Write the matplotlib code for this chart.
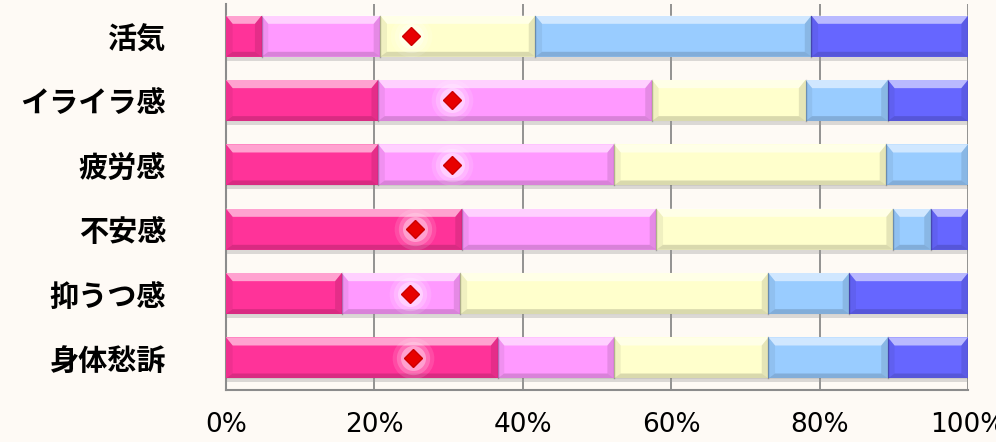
import matplotlib.pyplot as plt
from matplotlib.patches import Polygon
import numpy as np

plt.rcParams['font.family'] = ['Noto Sans CJK JP', 'DejaVu Sans']

categories = ["活気", "イライラ感", "疲労感", "不安感", "抑うつ感", "身体愁訴"]
# share of each response level (%), left to right
level1 = [4.8, 20.5, 20.5, 31.8, 15.6, 36.6]
level2 = [16.0, 36.9, 31.8, 26.2, 16.0, 15.7]
level3 = [20.9, 20.7, 36.7, 31.9, 41.5, 20.8]
level4 = [37.2, 11.1, 11.0, 5.1, 10.9, 16.1]
level5 = [21.1, 10.8, 0.0, 5.0, 16.0, 10.8]
mean_marker = [25.0, 30.4, 30.4, 25.5, 24.8, 25.2]
xticks = [0, 20, 40, 60, 80, 100]

colors = ["#ff3399", "#ff99ff", "#ffffcc", "#99ccff", "#6666ff"]


def bevel(ax, rect):
    # fake 3D bevel: light top facet, dark bottom facet
    x0, y0 = rect.get_x(), rect.get_y()
    w, h = rect.get_width(), rect.get_height()
    if w <= 0:
        return
    bx, by = min(0.9, w / 3), h * 0.2
    y1 = y0 + h
    top = Polygon([(x0, y0), (x0 + w, y0), (x0 + w - bx, y0 + by), (x0 + bx, y0 + by)],
                  closed=True, facecolor="white", alpha=0.55, lw=0, zorder=4)
    bot = Polygon([(x0, y1), (x0 + w, y1), (x0 + w - bx, y1 - by * 0.6), (x0 + bx, y1 - by * 0.6)],
                  closed=True, facecolor="black", alpha=0.15, lw=0, zorder=4)
    left = Polygon([(x0, y0), (x0 + bx, y0 + by), (x0 + bx, y1 - by * 0.6), (x0, y1)],
                   closed=True, facecolor="black", alpha=0.06, lw=0, zorder=4)
    right = Polygon([(x0 + w, y0), (x0 + w - bx, y0 + by), (x0 + w - bx, y1 - by * 0.6), (x0 + w, y1)],
                    closed=True, facecolor="black", alpha=0.1, lw=0, zorder=4)
    for p in (top, bot, left, right):
        ax.add_patch(p)
    ax.plot([x0 + w, x0 + w], [y0, y1], color="black", alpha=0.25, lw=1, zorder=4)


fig = plt.figure(figsize=(9.96, 4.42), dpi=100, facecolor="#fefaf5")
ax = fig.add_axes([0.2269, 0.1176, 0.745, 0.8734])
ax.set_facecolor("none")

y = np.arange(len(categories))
bar_h = 0.64

# drop shadow under each bar
totals = np.array(level1) + level2 + level3 + level4 + level5
ax.barh(y + 0.06, totals, height=bar_h, color="#9a9a9a", alpha=0.35, zorder=2, lw=0)

left = np.zeros(len(categories))
for vals, c in zip([level1, level2, level3, level4, level5], colors):
    bars = ax.barh(y, vals, left=left, height=bar_h, color=c, lw=0, zorder=3)
    for r in bars:
        bevel(ax, r)
    left += np.array(vals)

# averages as red diamonds with a soft white halo
for s, a in [(30, 0.12), (24, 0.2), (18, 0.35)]:
    ax.plot(mean_marker, y, ls="none", marker="o", ms=s, mfc="white", mec="none", alpha=a, zorder=5)
ax.plot(mean_marker, y, ls="none", marker="D", ms=9, mfc="#e80000", mec="#cc0000", zorder=6)

ax.set_xlim(0, 100)
ax.set_ylim(len(categories) - 0.5, -0.5)
ax.set_xticks(xticks)
ax.set_xticklabels([f"{t}%" for t in xticks], fontsize=19, family="DejaVu Sans")
ax.set_yticks(y)
ax.set_yticklabels(categories, fontsize=21, fontweight="bold")
ax.tick_params(axis="x", length=0, pad=16)
ax.tick_params(axis="y", length=0, pad=43)
ax.xaxis.grid(True, color="#808080", lw=1.2, zorder=1)
ax.set_axisbelow(True)
for side in ("top", "right"):
    ax.spines[side].set_visible(False)
for side in ("left", "bottom"):
    ax.spines[side].set_color("#8c8c8c")
    ax.spines[side].set_linewidth(1.5)

fig.savefig("out.png", dpi=100, facecolor=fig.get_facecolor())
